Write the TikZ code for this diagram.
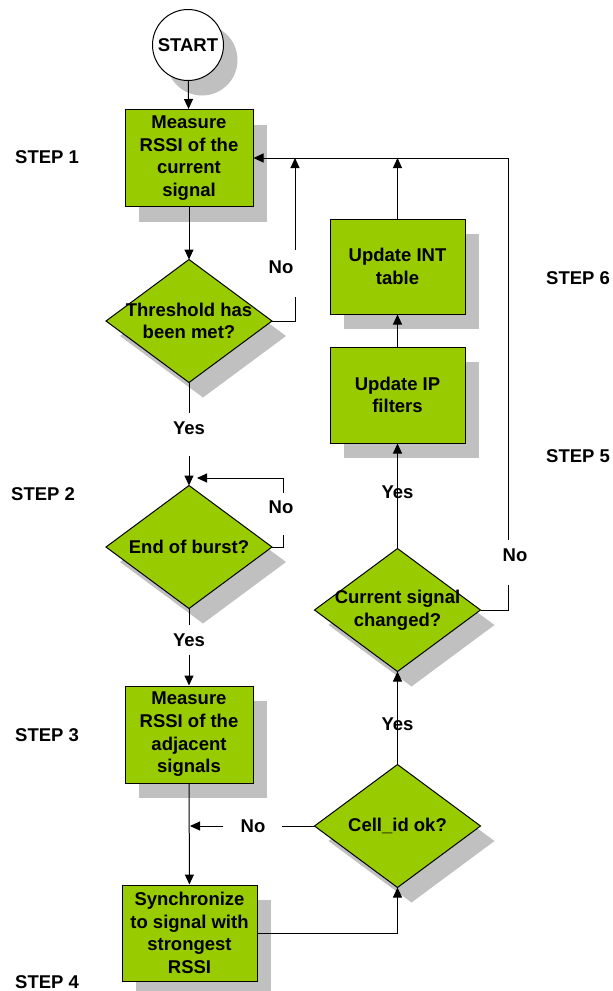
\documentclass[tikz,border=0pt]{standalone}
\usepackage{fontspec}
\setmainfont{Liberation Sans}
\usetikzlibrary{shapes.geometric,shadows,arrows.meta}
\definecolor{boxgreen}{HTML}{99CC00}
\definecolor{shadowgray}{HTML}{C0C0C0}

\begin{document}
\begin{tikzpicture}[x=1pt,y=-1pt,
  font=\fontsize{18.5}{22.7}\selectfont\bfseries,
  shade/.style={drop shadow={shadow xshift=14pt,shadow yshift=-15pt,fill=shadowgray,opacity=1}},
  procbox/.style={rectangle,draw=black,fill=boxgreen,line width=1pt,shade,align=center,inner sep=0pt},
  decision/.style={diamond,draw=black,fill=boxgreen,line width=1pt,shade,inner sep=0pt,outer sep=0pt,
                   minimum width=166pt,minimum height=123pt},
  dtext/.style={align=center,inner sep=0pt},
  lbl/.style={inner sep=0pt},
  flow/.style={line width=1pt,-{Triangle[length=10pt,width=9pt]}},
  link/.style={line width=1pt}]

\useasboundingbox (0,0) rectangle (613,991);

% start terminal
\node[circle,draw=black,fill=white,line width=1pt,shade,minimum size=71pt,inner sep=0pt] (start) at (188,45) {START};

% left column
\node[procbox,minimum width=128pt,minimum height=97pt] (b1) at (189,158) {Measure\\RSSI of the\\current\\signal};
\node[decision] (d1) at (189,321) {};
\node[dtext] (t1) at (d1.center) {Threshold has\\been met?};
\node[decision] (d2) at (189,547) {};
\node[dtext] (t2) at (d2.center) {End of burst?};
\node[procbox,minimum width=128pt,minimum height=97pt] (b3) at (189,734.5) {Measure\\RSSI of the\\adjacent\\signals};
\node[procbox,minimum width=135pt,minimum height=96pt] (b4) at (189.5,933) {Synchronize\\to signal with\\strongest\\RSSI};

% right column
\node[decision] (d4) at (397.5,826) {};
\node[dtext] (t4) at (d4.center) {Cell\_id ok?};
\node[decision] (d3) at (397.5,610) {};
\node[dtext] (t3) at (d3.center) {Current signal\\changed?};
\node[procbox,minimum width=135pt,minimum height=96pt] (bip) at (397.5,395) {Update IP\\filters};
\node[procbox,minimum width=135pt,minimum height=95pt] (bint) at (397.5,266.5) {Update INT\\table};

% step labels
\node[lbl,anchor=west] (s1) at (15,157) {STEP 1};
\node[lbl,anchor=west] (s2) at (11,494) {STEP 2};
\node[lbl,anchor=west] (s3) at (15,735) {STEP 3};
\node[lbl,anchor=west] (s4) at (15,982) {STEP 4};
\node[lbl,anchor=west] (s5) at (546,456) {STEP 5};
\node[lbl,anchor=west] (s6) at (546,278) {STEP 6};

% branch labels
\node[lbl] (no1) at (281,267) {No};
\node[lbl] (yes1) at (189,428) {Yes};
\node[lbl] (no2) at (281,507) {No};
\node[lbl] (yes2) at (189,640) {Yes};
\node[lbl] (no4) at (253,826) {No};
\node[lbl] (yes4) at (397.5,724) {Yes};
\node[lbl] (yes3) at (397.5,492) {Yes};
\node[lbl] (no3) at (515,555) {No};

% free ends of the connectors
\coordinate (top) at (508,158);
\coordinate (n1a) at (295,297);
\coordinate (n1b) at (295,250);
\coordinate (n2a) at (283,535);
\coordinate (n2b) at (283,493);
\coordinate (n2c) at (197,478);
\coordinate (n3a) at (508,585);
\coordinate (n3b) at (508,540);
\coordinate (n4a) at (282,826);
\coordinate (n4b) at (223,826);
\coordinate (n4c) at (190,826);

% connectors
\draw[flow] (start) -- (b1);
\draw[flow] (b1) -- (d1);
\draw[link] (d1.east) -| (n1a);
\draw[flow] (n1b) -- (n1b |- top);
\draw[link] (d1.south) -- ([yshift=8pt]yes1.north);
\draw[flow] ([yshift=-21pt]yes1.south) -- (d2.north);
\draw[link] (d2.east) -| (n2a);
\draw[flow] (n2b) |- (n2c);
\draw[link] (d2.south) -- ([yshift=8pt]yes2.north);
\draw[flow] ([yshift=-8pt]yes2.south) -- (b3.north);
\draw[flow] (b3) -- (b4);
\draw[link] (d4.west) -- (n4a);
\draw[flow] (n4b) -- (n4c);
\draw[flow] (b4.east) -| (d4.south);
\draw[link] (d4.north) -- ([yshift=12pt]yes4.south);
\draw[flow] ([yshift=-12pt]yes4.north) -- (d3.south);
\draw[link] (d3.north) -- ([yshift=22pt]yes3.south);
\draw[flow] ([yshift=-10pt]yes3.north) -- (bip.south);
\draw[flow] (bip) -- (bint);
\draw[flow] (bint.north) -- (bint.north |- top);
\draw[link] (d3.east) -| (n3a);
\draw[flow] (n3b) -- (top) -- (b1.east);
\end{tikzpicture}
\end{document}
